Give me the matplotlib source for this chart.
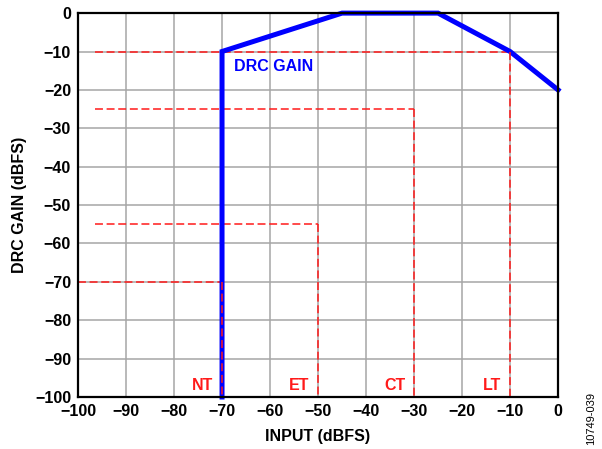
import matplotlib.pyplot as plt

plt.rcParams['font.family'] = ['Liberation Sans', 'DejaVu Sans']
plt.rcParams['font.weight'] = 'bold'

# DRC gain curve
gain_x = [-70, -70, -45, -25, -10, 0]
gain_y = [-100, -10, 0, 0, -10, -20]

# threshold markers: name, input level, gain level, where the dashed guide starts
thr_names = ['NT', 'ET', 'CT', 'LT']
thr_x = [-70, -50, -30, -10]
thr_y = [-70, -55, -25, -10]
thr_start = [-100, -96.5, -96.5, -96.5]

ticks = list(range(-100, 1, 10))


def main():
    fig = plt.figure(figsize=(6.02, 4.49), dpi=100)
    ax = fig.add_axes([0.1296, 0.1158, 0.7974, 0.855])
    ax.set_xlim(-100, 0)
    ax.set_ylim(-100, 0)
    ax.set_xticks(ticks)
    ax.set_yticks(ticks)
    ax.grid(True, color='#a6a6a6', lw=1.1)
    ax.tick_params(length=0, labelsize=11.5, pad=5)
    for s in ax.spines.values():
        s.set_linewidth(1.6)
        s.set_zorder(5)

    red = '#ff1a1a'
    dash = (0, (5.2, 2.4))
    for name, tx, ty, x0 in zip(thr_names, thr_x, thr_y, thr_start):
        ax.plot([x0, tx], [ty, ty], color=red, lw=1.1, ls=dash, zorder=3)
        ax.plot([tx, tx], [ty, -100], color=red, lw=1.1, ls=dash, zorder=4.5)
        ax.text(tx - 1.8, -98.3, name, color=red, fontsize=11.5,
                fontweight='bold', ha='right', va='baseline')

    ax.plot(gain_x, gain_y, color='#0000ff', lw=3.6, zorder=4,
            solid_joinstyle='miter', clip_on=False)
    ax.text(-67.5, -15, 'DRC GAIN', color='#0000ff', fontsize=11.5,
            fontweight='bold')

    ax.set_xlabel('INPUT (dBFS)', fontsize=11.5, fontweight='bold', labelpad=7)
    ax.set_ylabel('DRC GAIN (dBFS)', fontsize=11.5, fontweight='bold', labelpad=6)
    fig.text(0.982, 0.01, '10749-039', rotation=90, fontsize=8,
             fontweight='normal', ha='center', va='bottom')
    fig.savefig('out.png', dpi=100)


if __name__ == '__main__':
    main()
